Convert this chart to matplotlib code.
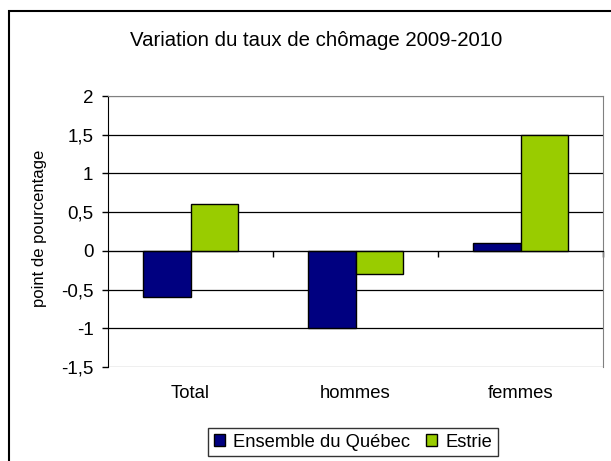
import matplotlib
matplotlib.use('Agg')
from matplotlib import pyplot as plt
from matplotlib.patches import Rectangle, Patch
import numpy as np

plt.rcParams['font.family'] = ['Liberation Sans', 'DejaVu Sans']

## Data
categories = ['Total', 'hommes', 'femmes']
quebec = [-0.6, -1.0, 0.1]
estrie = [0.6, -0.3, 1.5]
series_names = ['Ensemble du Québec', 'Estrie']
yticks = [-1.5, -1, -0.5, 0, 0.5, 1, 1.5, 2]
ytick_labels = ['-1,5', '-1', '-0,5', '0', '0,5', '1', '1,5', '2']

blue = '#000080'
green = '#99CC00'

fig = plt.figure(figsize=(6.11, 4.61), dpi=100)
ax = fig.add_axes([108 / 611, 1 - 367 / 461, 495 / 611, 271 / 461])

x = np.arange(len(categories))
w = 0.285
ax.bar(x - w / 2, quebec, w, color=blue, edgecolor='black', linewidth=1, zorder=3)
ax.bar(x + w / 2, estrie, w, color=green, edgecolor='black', linewidth=1, zorder=3)

ax.set_xlim(-0.5, 2.5)
ax.set_ylim(-1.5, 2)
ax.set_yticks(yticks)
ax.set_yticklabels(ytick_labels, fontsize=13.5)
ax.tick_params(axis='y', direction='out', length=4, width=1, pad=6.5, color='black')

### category axis at zero, ticks at boundaries
ax.spines['bottom'].set_position(('data', 0))
ax.spines['bottom'].set_color('black')
ax.spines['bottom'].set_zorder(4)
ax.set_xticks([0.5, 1.5, 2.5])
ax.set_xticklabels([])
ax.tick_params(axis='x', direction='out', length=4, width=1, color='black')
for i, lab in enumerate(categories):
    ax.text(i, -0.096, lab, transform=ax.get_xaxis_transform(), ha='center', va='center', fontsize=13.3)

ax.spines['left'].set_color('black')
ax.spines['top'].set_color('#808080')
ax.spines['right'].set_color('#808080')

ax.yaxis.grid(True, color='black', linewidth=0.9)
ax.set_axisbelow(True)
gl = ax.yaxis.get_gridlines()
gl[0].set_color('#808080')
gl[-1].set_color('#808080')

fig.text(316 / 611, 1 - 40 / 461, 'Variation du taux de chômage 2009-2010', ha='center', va='center', fontsize=14.7)
fig.text(40 / 611, 1 - 228 / 461, 'point de pourcentage', rotation=90, ha='center', va='center', fontsize=12)

### outer frame (runs past the bottom and right edges)
fig.patches.append(Rectangle((8.5 / 611, -0.2), 1.2, 1.2 - 10.5 / 461, transform=fig.transFigure,
                             fill=False, edgecolor='black', linewidth=1.5))

handles = [Patch(facecolor=blue, edgecolor='black'), Patch(facecolor=green, edgecolor='black')]
leg = fig.legend(handles, series_names, loc='upper left', bbox_to_anchor=(208 / 611, 1 - 428 / 461),
                 bbox_transform=fig.transFigure, ncol=2, fontsize=13.2, frameon=True, fancybox=False,
                 handlelength=0.6, handleheight=0.6, handletextpad=0.45, columnspacing=0.9,
                 borderpad=0.3, borderaxespad=0)
leg.get_frame().set_edgecolor('black')
leg.get_frame().set_linewidth(1)

fig.savefig('out.png', dpi=100)
